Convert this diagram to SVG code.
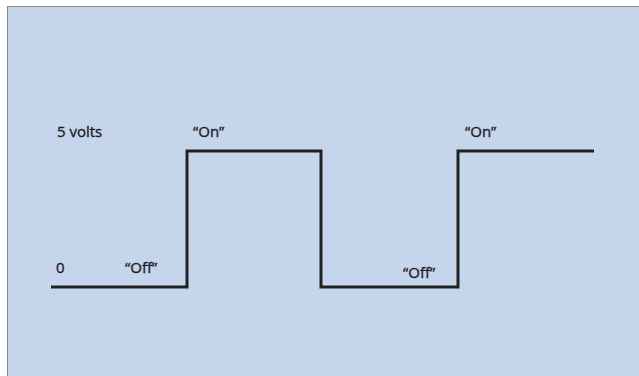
<svg xmlns="http://www.w3.org/2000/svg" width="639" height="376" viewBox="0 0 639 376">
<style>
.lbl{font-family:"Open Sans","Liberation Sans",sans-serif;font-size:15px;fill:#1e1e1e;stroke:#1e1e1e;stroke-width:0.35}
.wave{fill:none;stroke:#222;stroke-width:3;stroke-linejoin:miter}
</style>
<rect x="0" y="0" width="639" height="376" fill="#ffffff"/>
<rect x="7.5" y="6.5" width="640" height="380" fill="#C5D5EC" stroke="#8a8a8a" stroke-width="1"/>
<g id="connectors">
<polyline class="wave" points="51,287 187,287 187,151 321,151 321,287 458,287 458,151 594,151"/>
</g>
<g id="label-5volts"><text class="lbl" x="57" y="137">5 volts</text></g>
<g id="label-zero"><text class="lbl" x="56" y="273">0</text></g>
<g id="label-off1"><text class="lbl" x="125" y="273">“Off”</text></g>
<g id="label-on1"><text class="lbl" x="193" y="137">“On”</text></g>
<g id="label-off2"><text class="lbl" x="403" y="278">“Off”</text></g>
<g id="label-on2"><text class="lbl" x="465" y="137">“On”</text></g>
</svg>
